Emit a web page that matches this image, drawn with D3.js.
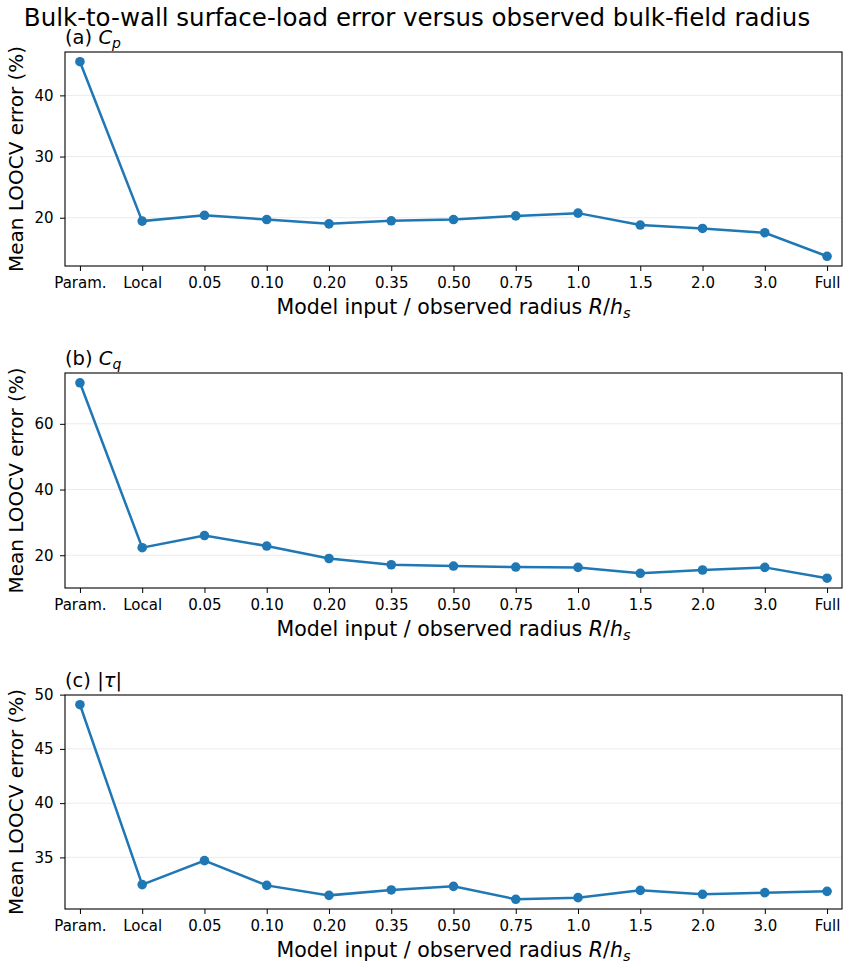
<!DOCTYPE html>
<html>
<head>
<meta charset="utf-8">
<script src="https://cdn.jsdelivr.net/npm/d3@7"></script>
<style>
  body { margin: 0; background: #fff; }
  text { font-family: "DejaVu Sans", sans-serif; fill: #000; }
</style>
</head>
<body>
<div id="chart"></div>
<script>
// categories along the x axis
var categories = ["Param.", "Local", "0.05", "0.10", "0.20", "0.35", "0.50", "0.75", "1.0", "1.5", "2.0", "3.0", "Full"];

// mean LOOCV error (%) per panel
var cpErrors = [45.5, 19.45, 20.4, 19.7, 19.0, 19.5, 19.7, 20.3, 20.75, 18.8, 18.25, 17.55, 13.7];
var cqErrors = [72.5, 22.3, 26.0, 22.8, 19.0, 17.1, 16.7, 16.4, 16.3, 14.5, 15.5, 16.3, 13.0];
var tauErrors = [49.07, 32.49, 34.7, 32.42, 31.5, 32.0, 32.33, 31.14, 31.29, 31.96, 31.6, 31.75, 31.87];

// y tick values per panel
var cpTicks = [20, 30, 40];
var cqTicks = [20, 40, 60];
var tauTicks = [35, 40, 45, 50];

var width = 849, height = 968;
var svg = d3.select("#chart").append("svg")
    .attr("width", width)
    .attr("height", height);

svg.append("text")
    .attr("x", 417)
    .attr("y", 26)
    .attr("text-anchor", "middle")
    .style("font-size", "24.5px")
    .text("Bulk-to-wall surface-load error versus observed bulk-field radius");

var left = 65, right = 842;
var panels = [
    { top: 52, bottom: 266, values: cpErrors, ticks: cpTicks, label: "(a) ", sym: "C", sub: "p" },
    { top: 373, bottom: 588, values: cqErrors, ticks: cqTicks, label: "(b) ", sym: "C", sub: "q" },
    { top: 695, bottom: 909, values: tauErrors, ticks: tauTicks, label: "(c) |", sym: "τ", sub: null, after: "|" }
];

var xScale = d3.scalePoint()
    .domain(categories)
    .range([left, right])
    .padding(0.24);

panels.forEach(function(p) {
    var lo = d3.min(p.values), hi = d3.max(p.values);
    var pad = (hi - lo) * 0.05;
    var yScale = d3.scaleLinear()
        .domain([lo - pad, hi + pad])
        .range([p.bottom, p.top]);

    var g = svg.append("g");

    // gridlines
    g.selectAll(".grid")
        .data(p.ticks.filter(function(t) { return t <= hi + pad; }))
        .enter().append("line")
        .attr("x1", left).attr("x2", right)
        .attr("y1", function(d) { return yScale(d); })
        .attr("y2", function(d) { return yScale(d); })
        .attr("stroke", "#ebebeb")
        .attr("stroke-width", 1);

    // axes
    var xAxis = g.append("g")
        .attr("transform", "translate(0," + p.bottom + ")")
        .call(d3.axisBottom(xScale).tickSize(5).tickPadding(6));
    xAxis.select(".domain").remove();
    xAxis.selectAll("text").style("font-size", "15px").attr("font-family", "DejaVu Sans");

    var yAxis = g.append("g")
        .attr("transform", "translate(" + left + ",0)")
        .call(d3.axisLeft(yScale).tickValues(p.ticks).tickSize(5).tickPadding(6.5));
    yAxis.select(".domain").remove();
    yAxis.selectAll("text").style("font-size", "15px").attr("font-family", "DejaVu Sans");
    g.selectAll(".tick line").attr("stroke", "#000").attr("stroke-width", 1);

    // frame
    g.append("rect")
        .attr("x", left).attr("y", p.top)
        .attr("width", right - left).attr("height", p.bottom - p.top)
        .attr("fill", "none")
        .attr("stroke", "#000")
        .attr("stroke-width", 1.1);

    // line and markers
    var line = d3.line()
        .x(function(d, i) { return xScale(categories[i]); })
        .y(function(d) { return yScale(d); });

    g.append("path")
        .datum(p.values)
        .attr("d", line)
        .attr("fill", "none")
        .attr("stroke", "#1f77b4")
        .attr("stroke-width", 2.5);

    g.selectAll(".dot")
        .data(p.values)
        .enter().append("circle")
        .attr("cx", function(d, i) { return xScale(categories[i]); })
        .attr("cy", function(d) { return yScale(d); })
        .attr("r", 4.8)
        .attr("fill", "#1f77b4");

    // panel title
    var t = g.append("text")
        .attr("x", left)
        .attr("y", p.top - 8)
        .style("font-size", "19.5px");
    t.append("tspan").text(p.label);
    t.append("tspan").attr("font-style", "italic").text(p.sym);
    if (p.sub) t.append("tspan").attr("font-style", "italic").attr("dy", 4).style("font-size", "14px").text(p.sub);
    if (p.after) t.append("tspan").text(p.after);

    // x label
    var xl = g.append("text")
        .attr("x", (left + right) / 2)
        .attr("y", p.bottom + 48)
        .attr("text-anchor", "middle")
        .style("font-size", "20.5px");
    xl.append("tspan").text("Model input / observed radius ");
    xl.append("tspan").attr("font-style", "italic").text("R");
    xl.append("tspan").text("/");
    xl.append("tspan").attr("font-style", "italic").text("h");
    xl.append("tspan").attr("font-style", "italic").attr("dy", 4).style("font-size", "14.5px").text("s");

    // y label
    g.append("text")
        .attr("transform", "translate(23," + ((p.top + p.bottom) / 2) + ") rotate(-90)")
        .attr("text-anchor", "middle")
        .style("font-size", "20px")
        .text("Mean LOOCV error (%)");
});
</script>
</body>
</html>
